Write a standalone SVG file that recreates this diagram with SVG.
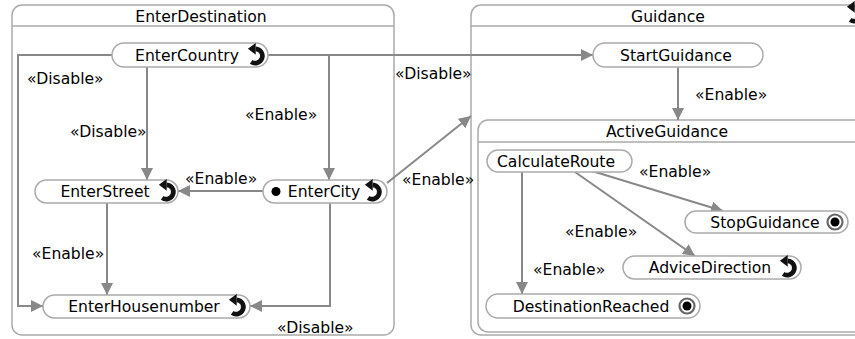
<svg xmlns="http://www.w3.org/2000/svg" xmlns:xlink="http://www.w3.org/1999/xlink" width="855" height="339" viewBox="0 0 855 339">
<style>
text{font-family:"DejaVu Sans","Verdana",sans-serif;font-size:15.6px;fill:#000}
.c{text-anchor:middle}
.cont{fill:#fff;stroke:#aaa;stroke-width:1.5}
.hdr{stroke:#aaa;stroke-width:1.5}
.node{fill:#fff;stroke:#aaa;stroke-width:1.5}
.edge{fill:none;stroke:#888;stroke-width:2;marker-end:url(#arr)}
</style>
<defs>
<marker id="arr" markerUnits="userSpaceOnUse" markerWidth="14" markerHeight="12" refX="12" refY="6" orient="auto">
<path d="M0,0 L12,6 L0,12 z" fill="#888"/>
</marker>
<g id="loop" transform="scale(1.3)">
<path d="M-4.5,4.5 A5.5 5.5 0 1 0 -1,-5.5" fill="none" stroke="#111" stroke-width="3.6"/>
<path d="M-7,-5.5 L-1,-10 L-1,-1 z" fill="#111"/>
</g>
<g id="final">
<circle r="7.5" fill="#fff" stroke="#666" stroke-width="2.2"/>
<circle r="4.5" fill="#000"/>
</g>
</defs>
<rect width="855" height="339" fill="#fff"/>

<g id="EnterDestination">
<rect class="cont" x="12" y="5" width="382" height="330" rx="10"/>
<line class="hdr" x1="12" y1="26" x2="394" y2="26"/>
<text class="c" x="201" y="22">EnterDestination</text>
</g>
<g id="Guidance">
<rect class="cont" x="471" y="5" width="400" height="330" rx="10"/>
<line class="hdr" x1="471" y1="26" x2="871" y2="26"/>
<text class="c" x="668" y="22">Guidance</text>
<use xlink:href="#loop" x="856" y="14"/>
</g>
<g id="ActiveGuidance">
<rect class="cont" x="478" y="120" width="400" height="212" rx="10"/>
<line class="hdr" x1="478" y1="142" x2="878" y2="142"/>
<text class="c" x="667" y="137">ActiveGuidance</text>
</g>

<g id="connectors">
<path class="edge" d="M112,55 H18 V306 H43"/>
<path class="edge" d="M147,67 V180"/>
<path class="edge" d="M268,55 H329 V180"/>
<path class="edge" d="M268,55 H593"/>
<path class="edge" d="M263,191 H178"/>
<path class="edge" d="M107,203 V295"/>
<path class="edge" d="M330,203 V306 H250"/>
<path class="edge" d="M387,183 L471,116"/>
<path class="edge" d="M678,67 V120"/>
<path class="edge" d="M522,172 V294"/>
<path class="edge" d="M592,171 L723,211"/>
<path class="edge" d="M575,172 L695,256"/>
<text x="27" y="84">«Disable»</text>
<text x="70" y="137">«Disable»</text>
<text x="245" y="120">«Enable»</text>
<text x="395" y="79">«Disable»</text>
<text x="185" y="184">«Enable»</text>
<text x="32" y="259">«Enable»</text>
<text x="277" y="333">«Disable»</text>
<text x="402" y="185">«Enable»</text>
<text x="695" y="100">«Enable»</text>
<text x="639" y="177">«Enable»</text>
<text x="565" y="237">«Enable»</text>
<text x="533" y="275">«Enable»</text>
</g>

<g id="EnterCountry">
<rect class="node" x="112" y="43" width="156" height="24" rx="12"/>
<text class="c" x="187" y="60.5">EnterCountry</text>
<use xlink:href="#loop" x="257" y="56"/>
</g>
<g id="EnterStreet">
<rect class="node" x="35" y="180" width="143" height="23" rx="11.5"/>
<text class="c" x="105" y="197">EnterStreet</text>
<use xlink:href="#loop" x="168" y="192"/>
</g>
<g id="EnterCity">
<rect class="node" x="263" y="180" width="124" height="23" rx="11.5"/>
<circle cx="276" cy="191.5" r="4.5" fill="#000"/>
<text class="c" x="324" y="197">EnterCity</text>
<use xlink:href="#loop" x="374" y="192"/>
</g>
<g id="EnterHousenumber">
<rect class="node" x="43" y="295" width="207" height="23" rx="11.5"/>
<text class="c" x="144" y="312">EnterHousenumber</text>
<use xlink:href="#loop" x="238" y="307"/>
</g>
<g id="StartGuidance">
<rect class="node" x="593" y="43" width="170" height="24" rx="12"/>
<text class="c" x="676" y="60.5">StartGuidance</text>
</g>
<g id="CalculateRoute">
<rect class="node" x="487" y="150" width="145" height="22" rx="11"/>
<text class="c" x="556" y="166.5">CalculateRoute</text>
</g>
<g id="StopGuidance">
<rect class="node" x="685" y="211" width="163" height="22" rx="11"/>
<text class="c" x="765" y="227.5">StopGuidance</text>
<use xlink:href="#final" x="835" y="222"/>
</g>
<g id="AdviceDirection">
<rect class="node" x="623" y="256" width="178" height="23" rx="11.5"/>
<text class="c" x="710" y="273">AdviceDirection</text>
<use xlink:href="#loop" x="789" y="268"/>
</g>
<g id="DestinationReached">
<rect class="node" x="486" y="294" width="214" height="24" rx="12"/>
<text class="c" x="591" y="311.5">DestinationReached</text>
<use xlink:href="#final" x="687" y="306"/>
</g>
</svg>
